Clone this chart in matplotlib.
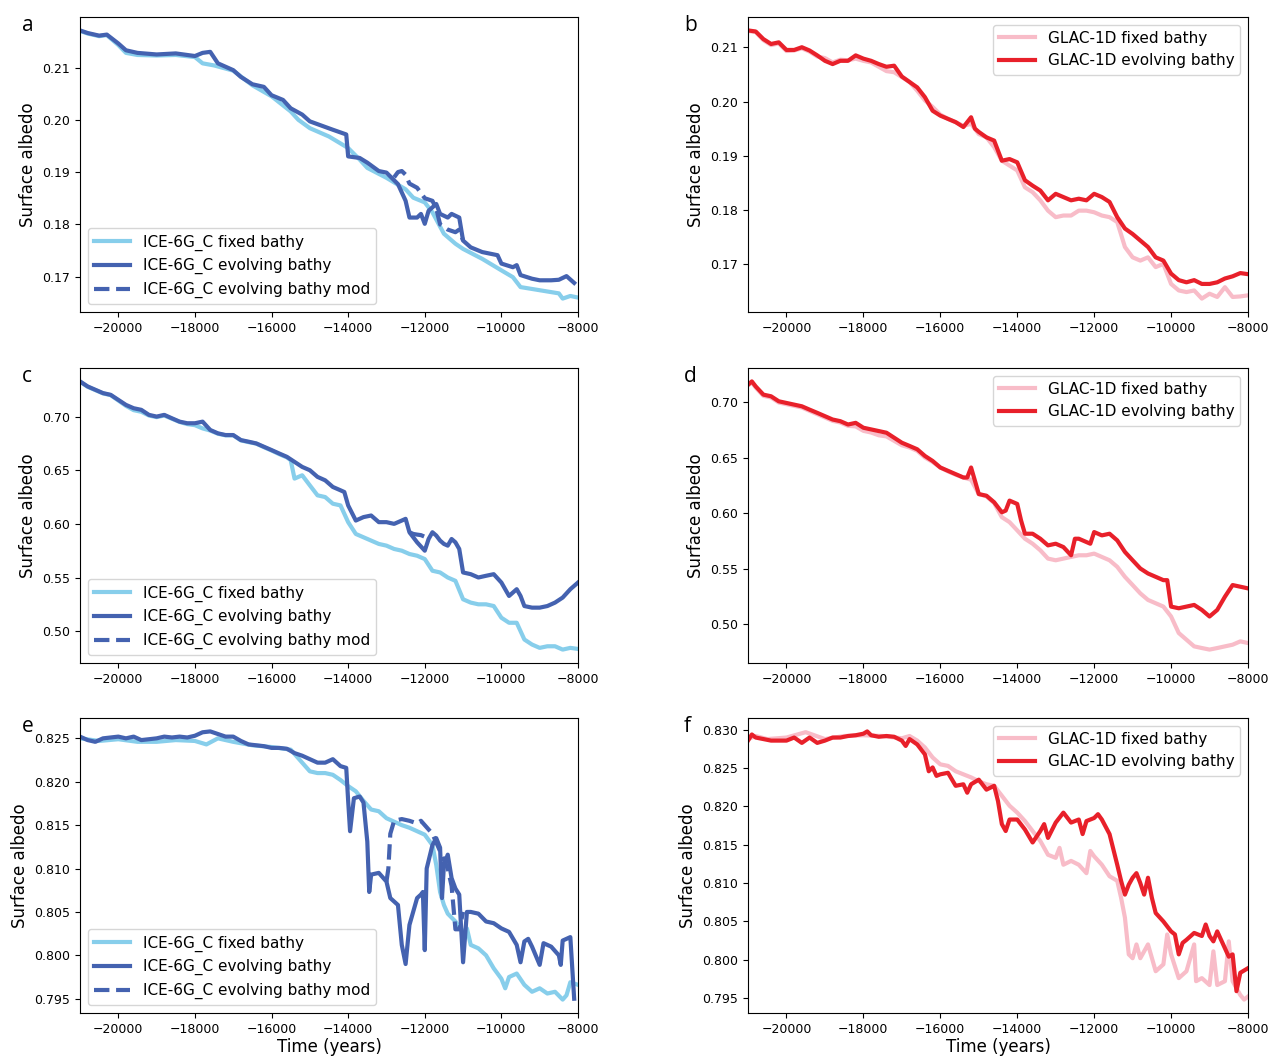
import matplotlib
matplotlib.use("Agg")
import matplotlib.pyplot as plt
from matplotlib.ticker import MultipleLocator, FormatStrFormatter

# ---------------------------------------------------------------- data
# Panel a: ICE-6G_C, global surface albedo
a_fix_t = [-21000, -20800, -20500, -20300, -20000, -19800, -19500, -19000, -18500, -18000,
           -17800, -17500, -17000, -16500, -16000, -15500, -15300, -15000, -14500, -14000,
           -13700, -13500, -13000, -12500, -12300, -12000, -11800, -11500, -11200, -11000,
           -10500, -10000, -9700, -9500, -9000, -8500, -8400, -8200, -8000]
a_fix_v = [0.2170, 0.2165, 0.2160, 0.2162, 0.2143, 0.2128, 0.2124, 0.2123, 0.2124, 0.2120,
           0.2108, 0.2104, 0.2094, 0.2066, 0.2045, 0.2016, 0.2000, 0.1984, 0.1968, 0.1946,
           0.1924, 0.1908, 0.1889, 0.1867, 0.1851, 0.1842, 0.1823, 0.1782, 0.1763, 0.1753,
           0.1734, 0.1712, 0.1699, 0.1680, 0.1674, 0.1668, 0.1658, 0.1663, 0.1660]
a_evo_t = [-21000, -20800, -20500, -20300, -20000, -19800, -19500, -19000, -18500, -18000,
           -17800, -17600, -17400, -17000, -16800, -16500, -16200, -16000, -15700, -15500,
           -15200, -15000, -14700, -14400, -14050, -14000, -13700, -13500, -13200, -13000,
           -12700, -12500, -12400, -12200, -12100, -12000, -11900, -11700, -11600, -11400,
           -11300, -11100, -11000, -10800, -10500, -10300, -10100, -10000, -9700, -9600,
           -9500, -9200, -9000, -8700, -8500, -8300, -8100]
a_evo_v = [0.2171, 0.2166, 0.2161, 0.2163, 0.2146, 0.2133, 0.2128, 0.2125, 0.2127, 0.2122,
           0.2128, 0.2130, 0.2108, 0.2095, 0.2082, 0.2068, 0.2063, 0.2047, 0.2038, 0.2022,
           0.2010, 0.1997, 0.1989, 0.1981, 0.1972, 0.1930, 0.1927, 0.1918, 0.1902, 0.1899,
           0.1877, 0.1845, 0.1813, 0.1813, 0.1820, 0.1801, 0.1826, 0.1839, 0.1820, 0.1813,
           0.1820, 0.1813, 0.1769, 0.1756, 0.1747, 0.1744, 0.1741, 0.1725, 0.1718, 0.1722,
           0.1703, 0.1696, 0.1693, 0.1693, 0.1694, 0.1701, 0.1688]
a_mod_t = [-12800, -12700, -12600, -12500, -12400, -12200, -12000, -11800, -11700, -11600,
           -11400, -11200, -11100, -11000]
a_mod_v = [0.1890, 0.1900, 0.1902, 0.1895, 0.1878, 0.1870, 0.1850, 0.1845, 0.1830, 0.1800,
           0.1790, 0.1785, 0.1790, 0.1769]

# Panel b: GLAC-1D, global surface albedo
b_fix_t = [-21000, -20800, -20600, -20400, -20200, -20000, -19800, -19600, -19400, -19200,
           -19000, -18800, -18600, -18400, -18200, -18000, -17800, -17600, -17400, -17200,
           -17000, -16800, -16600, -16400, -16200, -16000, -15800, -15600, -15400, -15200,
           -15000, -14800, -14600, -14400, -14200, -14000, -13800, -13600, -13400, -13200,
           -13000, -12800, -12600, -12400, -12200, -12000, -11800, -11600, -11400, -11200,
           -11000, -10800, -10600, -10400, -10200, -10000, -9800, -9600, -9400, -9200,
           -9000, -8800, -8600, -8400, -8200, -8000]
b_fix_v = [0.2130, 0.2128, 0.2113, 0.2104, 0.2107, 0.2093, 0.2094, 0.2098, 0.2092, 0.2083,
           0.2080, 0.2072, 0.2077, 0.2076, 0.2079, 0.2075, 0.2072, 0.2064, 0.2056, 0.2054,
           0.2045, 0.2036, 0.2020, 0.2002, 0.1990, 0.1976, 0.1968, 0.1962, 0.1955, 0.1959,
           0.1940, 0.1934, 0.1916, 0.1891, 0.1882, 0.1873, 0.1842, 0.1833, 0.1818, 0.1799,
           0.1787, 0.1790, 0.1790, 0.1799, 0.1799, 0.1796, 0.1790, 0.1787, 0.1778, 0.1732,
           0.1713, 0.1707, 0.1713, 0.1695, 0.1701, 0.1664, 0.1652, 0.1649, 0.1652, 0.1637,
           0.1646, 0.1640, 0.1658, 0.1640, 0.1641, 0.1643]
b_evo_t = [-21000, -20800, -20600, -20400, -20200, -20000, -19800, -19600, -19400, -19200,
           -19000, -18800, -18600, -18400, -18200, -18000, -17800, -17600, -17400, -17200,
           -17000, -16800, -16600, -16400, -16200, -16000, -15800, -15600, -15400, -15200,
           -15100, -15000, -14800, -14600, -14400, -14200, -14000, -13800, -13600, -13400,
           -13200, -13000, -12800, -12600, -12400, -12200, -12000, -11800, -11600, -11400,
           -11200, -11000, -10800, -10600, -10400, -10200, -10000, -9800, -9600, -9400,
           -9200, -9000, -8800, -8600, -8400, -8200, -8000]
b_evo_v = [0.2131, 0.2129, 0.2115, 0.2106, 0.2109, 0.2095, 0.2095, 0.2100, 0.2094, 0.2085,
           0.2075, 0.2069, 0.2075, 0.2075, 0.2085, 0.2079, 0.2075, 0.2069, 0.2064, 0.2066,
           0.2046, 0.2036, 0.2026, 0.2008, 0.1983, 0.1974, 0.1968, 0.1962, 0.1953, 0.1971,
           0.1950, 0.1944, 0.1934, 0.1928, 0.1891, 0.1894, 0.1888, 0.1855, 0.1845, 0.1836,
           0.1818, 0.1830, 0.1824, 0.1818, 0.1821, 0.1818, 0.1830, 0.1824, 0.1815, 0.1787,
           0.1766, 0.1756, 0.1744, 0.1732, 0.1713, 0.1707, 0.1683, 0.1671, 0.1667, 0.1671,
           0.1664, 0.1664, 0.1667, 0.1674, 0.1678, 0.1684, 0.1682]

# Panel c: ICE-6G_C, Northern Hemisphere high latitudes
c_fix_t = [-21000, -20800, -20600, -20400, -20200, -20000, -19800, -19600, -19400, -19200,
           -19000, -18800, -18600, -18400, -18200, -18000, -17800, -17600, -17400, -17200,
           -17000, -16800, -16600, -16400, -16200, -16000, -15800, -15600, -15500, -15400,
           -15200, -15000, -14800, -14600, -14400, -14200, -14000, -13800, -13600, -13400,
           -13200, -13000, -12800, -12600, -12400, -12200, -12000, -11800, -11600, -11400,
           -11200, -11000, -10800, -10600, -10400, -10200, -10000, -9800, -9600, -9400,
           -9200, -9000, -8800, -8600, -8400, -8200, -8000]
c_fix_v = [0.7325, 0.7278, 0.7247, 0.7216, 0.7200, 0.7150, 0.7100, 0.7060, 0.7045, 0.7010,
           0.6995, 0.7010, 0.6980, 0.6950, 0.6930, 0.6920, 0.6890, 0.6870, 0.6840, 0.6825,
           0.6825, 0.6778, 0.6762, 0.6748, 0.6715, 0.6684, 0.6650, 0.6620, 0.6594, 0.6422,
           0.6453, 0.6359, 0.6266, 0.6250, 0.6188, 0.6172, 0.6016, 0.5906, 0.5875, 0.5844,
           0.5813, 0.5797, 0.5766, 0.5750, 0.5719, 0.5703, 0.5672, 0.5563, 0.5547, 0.5500,
           0.5469, 0.5297, 0.5266, 0.5250, 0.5250, 0.5234, 0.5125, 0.5078, 0.5078, 0.4922,
           0.4875, 0.4844, 0.4859, 0.4859, 0.4828, 0.4844, 0.4834]
c_evo_t = [-21000, -20800, -20600, -20400, -20200, -20000, -19800, -19600, -19400, -19200,
           -19000, -18800, -18600, -18400, -18200, -18000, -17800, -17600, -17400, -17200,
           -17000, -16800, -16600, -16400, -16200, -16000, -15800, -15600, -15400, -15200,
           -15000, -14800, -14600, -14400, -14200, -14100, -14000, -13800, -13600, -13400,
           -13200, -13000, -12800, -12600, -12500, -12400, -12200, -12000, -11900, -11800,
           -11700, -11600, -11500, -11400, -11300, -11200, -11100, -11000, -10800, -10600,
           -10400, -10200, -10000, -9800, -9600, -9500, -9400, -9200, -9000, -8800,
           -8600, -8400, -8200, -8000]
c_evo_v = [0.7328, 0.7281, 0.7250, 0.7219, 0.7203, 0.7156, 0.7109, 0.7078, 0.7063, 0.7016,
           0.7000, 0.7016, 0.6984, 0.6953, 0.6938, 0.6938, 0.6953, 0.6875, 0.6844, 0.6828,
           0.6828, 0.6781, 0.6766, 0.6750, 0.6719, 0.6688, 0.6656, 0.6625, 0.6578, 0.6531,
           0.6500, 0.6438, 0.6406, 0.6344, 0.6313, 0.6297, 0.6172, 0.6031, 0.6063, 0.6078,
           0.6016, 0.6016, 0.6000, 0.6031, 0.6047, 0.5922, 0.5828, 0.5750, 0.5859, 0.5922,
           0.5891, 0.5844, 0.5813, 0.5797, 0.5859, 0.5828, 0.5766, 0.5547, 0.5531, 0.5500,
           0.5516, 0.5531, 0.5453, 0.5328, 0.5391, 0.5328, 0.5234, 0.5219, 0.5219, 0.5234,
           0.5266, 0.5313, 0.5391, 0.5453]
c_mod_t = [-12400, -12300, -12200, -12100, -12000, -11900]
c_mod_v = [0.5922, 0.5906, 0.5900, 0.5895, 0.5880, 0.5859]

# Panel d: GLAC-1D, Northern Hemisphere high latitudes
d_fix_t = [-21000, -20900, -20800, -20600, -20400, -20200, -20000, -19800, -19600, -19400,
           -19200, -19000, -18800, -18600, -18400, -18200, -18000, -17800, -17600, -17400,
           -17200, -17000, -16800, -16600, -16400, -16200, -16000, -15800, -15600, -15400,
           -15200, -15000, -14800, -14600, -14400, -14200, -14000, -13800, -13600, -13400,
           -13200, -13000, -12800, -12600, -12400, -12200, -12000, -11800, -11600, -11400,
           -11200, -11000, -10800, -10600, -10400, -10200, -10000, -9800, -9600, -9400,
           -9200, -9000, -8800, -8600, -8400, -8200, -8000]
d_fix_v = [0.7150, 0.7175, 0.7130, 0.7055, 0.7040, 0.6995, 0.6980, 0.6965, 0.6950, 0.6920,
           0.6890, 0.6860, 0.6830, 0.6815, 0.6785, 0.6780, 0.6740, 0.6725, 0.6700, 0.6690,
           0.6650, 0.6610, 0.6590, 0.6560, 0.6500, 0.6460, 0.6410, 0.6375, 0.6345, 0.6320,
           0.6300, 0.6171, 0.6150, 0.6090, 0.5963, 0.5918, 0.5844, 0.5769, 0.5724, 0.5665,
           0.5590, 0.5575, 0.5590, 0.5605, 0.5620, 0.5620, 0.5635, 0.5605, 0.5575, 0.5516,
           0.5426, 0.5352, 0.5277, 0.5218, 0.5188, 0.5158, 0.5069, 0.4920, 0.4860, 0.4800,
           0.4785, 0.4771, 0.4785, 0.4800, 0.4815, 0.4845, 0.4830]
d_evo_t = [-21000, -20900, -20800, -20600, -20400, -20200, -20000, -19800, -19600, -19400,
           -19200, -19000, -18800, -18600, -18400, -18200, -18000, -17800, -17600, -17400,
           -17200, -17000, -16800, -16600, -16400, -16200, -16000, -15800, -15600, -15400,
           -15300, -15200, -15100, -15000, -14800, -14600, -14400, -14300, -14200, -14000,
           -13900, -13800, -13600, -13400, -13200, -13000, -12800, -12600, -12500, -12400,
           -12200, -12100, -12000, -11800, -11600, -11400, -11200, -11000, -10800, -10600,
           -10400, -10200, -10100, -10000, -9800, -9600, -9400, -9200, -9000, -8800,
           -8600, -8400, -8200, -8000]
d_evo_v = [0.7155, 0.7185, 0.7140, 0.7066, 0.7051, 0.7006, 0.6991, 0.6976, 0.6961, 0.6931,
           0.6902, 0.6872, 0.6842, 0.6827, 0.6797, 0.6812, 0.6768, 0.6753, 0.6738, 0.6723,
           0.6678, 0.6633, 0.6604, 0.6574, 0.6514, 0.6469, 0.6410, 0.6380, 0.6350, 0.6320,
           0.6320, 0.6410, 0.6291, 0.6171, 0.6156, 0.6097, 0.6007, 0.6022, 0.6112, 0.6082,
           0.5933, 0.5814, 0.5814, 0.5769, 0.5709, 0.5724, 0.5694, 0.5620, 0.5769, 0.5769,
           0.5739, 0.5724, 0.5829, 0.5799, 0.5814, 0.5754, 0.5650, 0.5575, 0.5501, 0.5456,
           0.5426, 0.5396, 0.5396, 0.5158, 0.5143, 0.5158, 0.5173, 0.5128, 0.5069, 0.5128,
           0.5247, 0.5352, 0.5337, 0.5322]

# Panel e: ICE-6G_C, Southern Hemisphere high latitudes
e_fix_t = [-21000, -20500, -20000, -19500, -19000, -18500, -18000, -17700, -17400, -17000,
           -16500, -16000, -15500, -15200, -15000, -14800, -14600, -14400, -14200, -14000,
           -13800, -13600, -13400, -13200, -13000, -12800, -12600, -12400, -12200, -12000,
           -11800, -11700, -11600, -11500, -11400, -11200, -11000, -10900, -10800, -10600,
           -10400, -10200, -10000, -9900, -9800, -9600, -9400, -9200, -9000, -8800,
           -8600, -8400, -8300, -8200, -8000]
e_fix_v = [0.8250, 0.8247, 0.8249, 0.8246, 0.8246, 0.8248, 0.8247, 0.8243, 0.8250, 0.8246,
           0.8242, 0.8240, 0.8237, 0.8222, 0.8212, 0.8210, 0.8210, 0.8208, 0.8202, 0.8195,
           0.8189, 0.8178, 0.8168, 0.8166, 0.8158, 0.8154, 0.8150, 0.8147, 0.8143, 0.8139,
           0.8127, 0.8104, 0.8073, 0.8058, 0.8048, 0.8039, 0.8027, 0.8031, 0.8012, 0.8008,
           0.8000, 0.7985, 0.7973, 0.7962, 0.7975, 0.7979, 0.7966, 0.7958, 0.7962, 0.7956,
           0.7958, 0.7949, 0.7954, 0.7969, 0.7966]
e_evo_t = [-21000, -20800, -20600, -20400, -20200, -20000, -19800, -19600, -19400, -19200,
           -19000, -18800, -18600, -18400, -18200, -18000, -17800, -17600, -17400, -17200,
           -17000, -16800, -16600, -16400, -16200, -16000, -15800, -15600, -15400, -15200,
           -15000, -14800, -14600, -14400, -14200, -14050, -14000, -13950, -13850, -13700,
           -13600, -13500, -13450, -13400, -13200, -13000, -12900, -12700, -12600, -12500,
           -12400, -12200, -12100, -12050, -12000, -11950, -11800, -11700, -11600, -11550,
           -11500, -11400, -11300, -11200, -11100, -11000, -10900, -10800, -10600, -10400,
           -10200, -10000, -9800, -9600, -9500, -9400, -9300, -9200, -9000, -8900,
           -8700, -8500, -8450, -8400, -8200, -8100]
e_evo_v = [0.8252, 0.8248, 0.8246, 0.8250, 0.8251, 0.8252, 0.8250, 0.8252, 0.8248, 0.8249,
           0.8250, 0.8252, 0.8251, 0.8252, 0.8251, 0.8253, 0.8257, 0.8258, 0.8255, 0.8252,
           0.8252, 0.8247, 0.8243, 0.8242, 0.8241, 0.8239, 0.8239, 0.8238, 0.8233, 0.8230,
           0.8226, 0.8222, 0.8222, 0.8226, 0.8218, 0.8216, 0.8178, 0.8143, 0.8181, 0.8183,
           0.8176, 0.8131, 0.8073, 0.8093, 0.8095, 0.8085, 0.8066, 0.8058, 0.8012, 0.7990,
           0.8035, 0.8066, 0.8070, 0.8073, 0.8006, 0.8100, 0.8127, 0.8135, 0.8124, 0.8066,
           0.8104, 0.8116, 0.8089, 0.8077, 0.8070, 0.7992, 0.8050, 0.8050, 0.8048, 0.8039,
           0.8037, 0.8031, 0.8027, 0.8012, 0.7992, 0.8016, 0.8019, 0.8010, 0.7989, 0.8014,
           0.8010, 0.8000, 0.7989, 0.8017, 0.8021, 0.7950]
e_mod_t = [-13000, -12950, -12900, -12800, -12600, -12400, -12200, -12100, -12000, -11800,
           -11600, -11400, -11300, -11200, -11100, -11000]
e_mod_v = [0.8085, 0.8100, 0.8140, 0.8155, 0.8157, 0.8155, 0.8152, 0.8155, 0.8150, 0.8140,
           0.8120, 0.8100, 0.8080, 0.8030, 0.8030, 0.8050]

# Panel f: GLAC-1D, Southern Hemisphere high latitudes
f_fix_t = [-21000, -20800, -20500, -20000, -19500, -19000, -18500, -18000, -17500, -17000,
           -16800, -16600, -16400, -16200, -16000, -15800, -15600, -15400, -15200, -15000,
           -14800, -14600, -14400, -14200, -14000, -13800, -13600, -13400, -13200, -13000,
           -12900, -12800, -12600, -12400, -12200, -12100, -12000, -11800, -11600, -11400,
           -11300, -11200, -11100, -11000, -10900, -10800, -10600, -10400, -10200, -10100,
           -10000, -9800, -9600, -9400, -9350, -9200, -9000, -8900, -8800, -8600,
           -8500, -8400, -8200, -8100, -8000]
f_fix_v = [0.8288, 0.8292, 0.8288, 0.8290, 0.8297, 0.8288, 0.8292, 0.8293, 0.8292, 0.8289,
           0.8292, 0.8286, 0.8277, 0.8264, 0.8255, 0.8253, 0.8246, 0.8242, 0.8238, 0.8233,
           0.8229, 0.8227, 0.8214, 0.8201, 0.8192, 0.8181, 0.8168, 0.8155, 0.8137, 0.8133,
           0.8146, 0.8124, 0.8129, 0.8124, 0.8113, 0.8142, 0.8135, 0.8124, 0.8109, 0.8103,
           0.8081, 0.8055, 0.8007, 0.8002, 0.8020, 0.8002, 0.8020, 0.7985, 0.7994, 0.8033,
           0.8007, 0.7976, 0.7985, 0.8020, 0.7972, 0.7976, 0.7967, 0.8011, 0.7967, 0.7972,
           0.8024, 0.7972, 0.7954, 0.7948, 0.7952]
f_evo_t = [-21000, -20900, -20800, -20600, -20400, -20200, -20000, -19800, -19600, -19400,
           -19200, -19000, -18800, -18600, -18400, -18200, -18000, -17900, -17800, -17600,
           -17400, -17200, -17000, -16900, -16800, -16600, -16400, -16300, -16200, -16100,
           -16000, -15800, -15600, -15400, -15300, -15200, -15000, -14800, -14600, -14500,
           -14400, -14300, -14200, -14000, -13800, -13600, -13400, -13300, -13200, -13000,
           -12800, -12600, -12400, -12300, -12200, -12000, -11900, -11800, -11600, -11400,
           -11300, -11200, -11100, -11000, -10900, -10800, -10700, -10600, -10500, -10400,
           -10200, -10000, -9900, -9800, -9700, -9600, -9400, -9200, -9100, -9000,
           -8900, -8800, -8600, -8500, -8400, -8300, -8200, -8000]
f_evo_v = [0.8286, 0.8294, 0.8290, 0.8288, 0.8286, 0.8286, 0.8286, 0.8290, 0.8283, 0.8290,
           0.8283, 0.8286, 0.8290, 0.8290, 0.8292, 0.8293, 0.8295, 0.8298, 0.8293, 0.8291,
           0.8292, 0.8291, 0.8286, 0.8279, 0.8288, 0.8281, 0.8268, 0.8246, 0.8251, 0.8240,
           0.8242, 0.8244, 0.8227, 0.8229, 0.8218, 0.8229, 0.8235, 0.8222, 0.8227, 0.8207,
           0.8177, 0.8168, 0.8183, 0.8183, 0.8170, 0.8153, 0.8168, 0.8177, 0.8159, 0.8179,
           0.8192, 0.8179, 0.8183, 0.8164, 0.8181, 0.8185, 0.8190, 0.8183, 0.8164, 0.8124,
           0.8103, 0.8085, 0.8098, 0.8107, 0.8113, 0.8100, 0.8085, 0.8107, 0.8081, 0.8061,
           0.8050, 0.8037, 0.8033, 0.8007, 0.8022, 0.8026, 0.8035, 0.8031, 0.8046, 0.8031,
           0.8024, 0.8037, 0.8015, 0.8004, 0.8007, 0.7959, 0.7983, 0.7989]

ice_labels = ["ICE-6G_C fixed bathy", "ICE-6G_C evolving bathy", "ICE-6G_C evolving bathy mod"]
glac_labels = ["GLAC-1D fixed bathy", "GLAC-1D evolving bathy"]
panel_letters = ["a", "b", "c", "d", "e", "f"]
x_ticks = [-20000, -18000, -16000, -14000, -12000, -10000, -8000]

# ---------------------------------------------------------------- style
ICE_FIX = "#87ceeb"
ICE_EVO = "#4462b0"
GLAC_FIX = "#f8bcc8"
GLAC_EVO = "#e8202a"
LW = 3.0

plt.rcParams["font.family"] = "DejaVu Sans"
fig = plt.figure(figsize=(12.71, 10.59), dpi=100)

lefts = [80 / 1271, 748 / 1271]
widths = [498 / 1271, 500 / 1271]
bottoms = [1 - 312 / 1059, 1 - 663 / 1059, 1 - 1013 / 1059]
height = 295 / 1059

panels = [
    ("ice", (a_fix_t, a_fix_v), (a_evo_t, a_evo_v), (a_mod_t, a_mod_v), 0.01, "%.2f"),
    ("glac", (b_fix_t, b_fix_v), (b_evo_t, b_evo_v), None, 0.01, "%.2f"),
    ("ice", (c_fix_t, c_fix_v), (c_evo_t, c_evo_v), (c_mod_t, c_mod_v), 0.05, "%.2f"),
    ("glac", (d_fix_t, d_fix_v), (d_evo_t, d_evo_v), None, 0.05, "%.2f"),
    ("ice", (e_fix_t, e_fix_v), (e_evo_t, e_evo_v), (e_mod_t, e_mod_v), 0.005, "%.3f"),
    ("glac", (f_fix_t, f_fix_v), (f_evo_t, f_evo_v), None, 0.005, "%.3f"),
]

for i, (kind, fix, evo, mod, step, fmt) in enumerate(panels):
    row, col = divmod(i, 2)
    ax = fig.add_axes([lefts[col], bottoms[row], widths[col], height])
    if kind == "ice":
        ax.plot(*fix, color=ICE_FIX, lw=LW, label=ice_labels[0])
        ax.plot(*evo, color=ICE_EVO, lw=LW, label=ice_labels[1])
        ax.plot(*mod, color=ICE_EVO, lw=LW, ls="--", label=ice_labels[2])
        ax.legend(loc="lower left", fontsize=11, handlelength=2.4,
                  borderaxespad=0.5)
    else:
        ax.plot(*fix, color=GLAC_FIX, lw=LW, label=glac_labels[0])
        ax.plot(*evo, color=GLAC_EVO, lw=LW, label=glac_labels[1])
        ax.legend(loc="upper right", fontsize=11, handlelength=2.4,
                  borderaxespad=0.5)
    ax.set_xlim(-21000, -8000)
    ax.set_xticks(x_ticks)
    ax.yaxis.set_major_locator(MultipleLocator(step))
    ax.yaxis.set_major_formatter(FormatStrFormatter(fmt))
    ax.tick_params(labelsize=9)
    ax.set_ylabel("Surface albedo", fontsize=12)
    if row == 2:
        ax.set_xlabel("Time (years)", fontsize=12, labelpad=2)
    fig.text(lefts[col] - (58 if col == 0 else 64) / 1271,
             bottoms[row] + height + 2 / 1059,
             panel_letters[i], fontsize=15, family="Open Sans",
             ha="left", va="top")

fig.savefig("out.png", dpi=100)
